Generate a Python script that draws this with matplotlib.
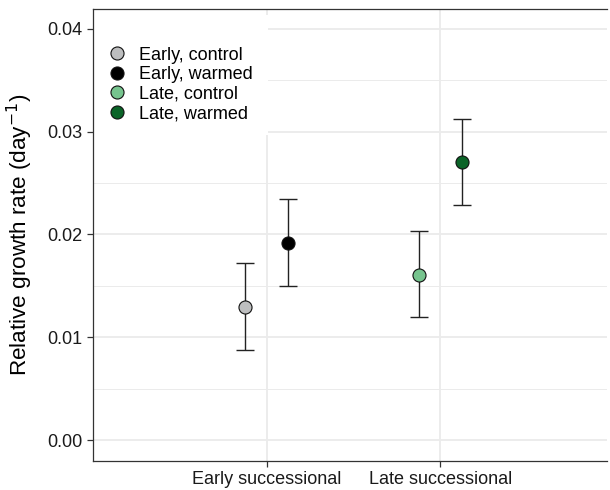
import matplotlib.pyplot as plt
from matplotlib.patches import Rectangle
from matplotlib.ticker import MultipleLocator

plt.rcParams['font.family'] = ['Liberation Sans', 'DejaVu Sans']

categories = ['Early successional', 'Late successional']
groups = ['Early, control', 'Early, warmed', 'Late, control', 'Late, warmed']
group_cat = [0, 0, 1, 1]
means = [0.0130, 0.0192, 0.0161, 0.0270]
lower = [0.0088, 0.0150, 0.0120, 0.0229]
upper = [0.0172, 0.0234, 0.0203, 0.0312]
colors = ['#bdbebf', '#000000', '#76c48e', '#0b6428']

fig = plt.figure(figsize=(6.1, 4.9), dpi=100)
ax = fig.add_axes([0.1525, 0.0592, 0.8425, 0.9224])

cat_x = [1, 2]
dodge = [-0.125, 0.125, -0.125, 0.125]

for i, g in enumerate(groups):
    x = cat_x[group_cat[i]] + dodge[i]
    ax.errorbar(x, means[i], yerr=[[means[i] - lower[i]], [upper[i] - means[i]]],
                fmt='none', ecolor='#222222', elinewidth=1.0, capsize=6.3,
                capthick=1.0, zorder=3)
    ax.plot(x, means[i], 'o', color=colors[i], markeredgecolor='#111111',
            markeredgewidth=0.8, markersize=9.4, label=g, zorder=4, linestyle='none')

ax.set_xlim(0.0, 2.96)
ax.set_ylim(-0.002, 0.0419)
ax.set_xticks(cat_x)
ax.set_xticklabels(categories)
ax.yaxis.set_major_locator(MultipleLocator(0.01))
ax.yaxis.set_minor_locator(MultipleLocator(0.005))
ax.yaxis.set_major_formatter(plt.FuncFormatter(lambda v, p: f'{v:.2f}'))

ax.set_axisbelow(True)
ax.grid(which='major', color='#ebebeb', linewidth=1.3)
ax.grid(which='minor', axis='y', color='#ebebeb', linewidth=0.7)
ax.tick_params(which='minor', left=False)
ax.tick_params(which='major', labelsize=13, length=4, width=0.9,
               color='#333333', labelcolor='#1a1a1a')

for s in ['left', 'top', 'bottom']:
    ax.spines[s].set_color('#333333')
    ax.spines[s].set_linewidth(0.9)
ax.spines['right'].set_visible(False)

ax.set_ylabel('Relative growth rate (day$^{-1}$)', fontsize=16.2, labelpad=9)

# white legend background box
ax.add_patch(Rectangle((0, 0.721), 0.34, 0.266, transform=ax.transAxes,
                       facecolor='white', edgecolor='none', zorder=1))
ax.legend(loc='upper left', bbox_to_anchor=(0.008, 0.937), frameon=False,
          fontsize=13, handletextpad=0.6, labelspacing=0.14,
          borderpad=0, handlelength=1.2)

fig.savefig('out.png', dpi=100)
